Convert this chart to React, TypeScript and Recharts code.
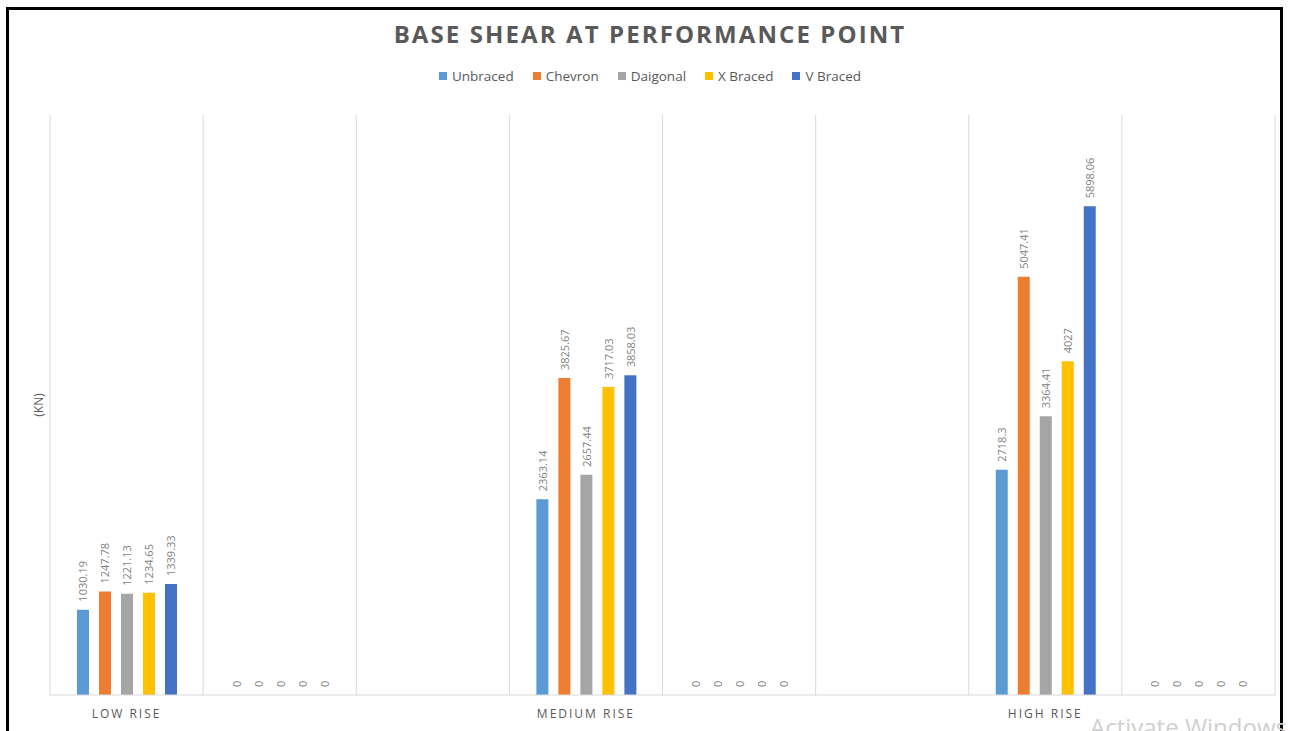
import React from 'react';
import { BarChart, Bar, XAxis, YAxis, CartesianGrid, LabelList } from 'recharts';

const categories = ['LOW RISE', '', '', 'MEDIUM RISE', '', '', 'HIGH RISE', ''];
const unbraced = [1030.19, 0, null, 2363.14, 0, null, 2718.3, 0];
const chevron = [1247.78, 0, null, 3825.67, 0, null, 5047.41, 0];
const daigonal = [1221.13, 0, null, 2657.44, 0, null, 3364.41, 0];
const xBraced = [1234.65, 0, null, 3717.03, 0, null, 4027, 0];
const vBraced = [1339.33, 0, null, 3858.03, 0, null, 5898.06, 0];

const seriesNames = ['Unbraced', 'Chevron', 'Daigonal', 'X Braced', 'V Braced'];
const seriesKeys = ['unbraced', 'chevron', 'daigonal', 'xBraced', 'vBraced'];
const seriesColors = ['#5B9BD5', '#ED7D31', '#A5A5A5', '#FFC000', '#4472C4'];
const seriesValues = [unbraced, chevron, daigonal, xBraced, vBraced];

const data = categories.map((c, i) => {
  const row: any = { idx: i, name: c };
  seriesKeys.forEach((k, s) => {
    row[k] = seriesValues[s][i];
  });
  return row;
});

const FONT = '"Open Sans", "Noto Sans", sans-serif';

const renderValueLabel = (props: any) => {
  const { x, y, width, height, value } = props;
  if (value === null || value === undefined) return null;
  const cx = Number(x) + Number(width) / 2;
  const top = Math.min(Number(y), Number(y) + Number(height || 0));
  const ty = top - 8;
  if (!isFinite(cx) || !isFinite(ty)) return null;
  return (
    <text
      x={cx}
      y={ty}
      transform={`rotate(-90, ${cx}, ${ty})`}
      textAnchor="start"
      dominantBaseline="central"
      fill="#7f7f7f"
      fontSize={11}
      fontFamily={FONT}
    >
      {String(value)}
    </text>
  );
};

export default function App() {
  const n = categories.length;
  return (
    <div style={{ position: 'absolute', left: 0, top: 0, width: 1290, height: 731, overflow: 'hidden', background: '#fff' }}>
      <div
        style={{
          position: 'absolute',
          left: 6,
          top: 7,
          width: 1277,
          height: 760,
          border: '3px solid #000',
          boxSizing: 'border-box',
        }}
      />
      <div
        style={{
          position: 'absolute',
          left: 0,
          top: 17,
          width: 1300,
          textAlign: 'center',
          fontFamily: FONT,
          fontWeight: 700,
          fontSize: 24,
          letterSpacing: 2.1,
          color: '#595959',
        }}
      >
        BASE SHEAR AT PERFORMANCE POINT
      </div>
      <div
        style={{
          position: 'absolute',
          left: 0,
          top: 67,
          width: 1300,
          display: 'flex',
          justifyContent: 'center',
          fontFamily: FONT,
          fontSize: 13.5,
          color: '#595959',
        }}
      >
        {seriesNames.map((nm, i) => (
          <div key={nm} style={{ display: 'flex', alignItems: 'center', marginRight: i < seriesNames.length - 1 ? 19 : 0 }}>
            <span style={{ display: 'inline-block', width: 8, height: 8, background: seriesColors[i], marginRight: 5 }} />
            <span>{nm}</span>
          </div>
        ))}
      </div>
      <div style={{ position: 'absolute', left: 0, top: 0 }}>
        <BarChart
          width={1290}
          height={731}
          data={data}
          margin={{ top: 115, right: 15, bottom: 0, left: 0 }}
          barGap={10}
          barSize={12}
        >
          <CartesianGrid
            horizontal={false}
            stroke="#d9d9d9"
            verticalCoordinatesGenerator={({ offset }: any) =>
              Array.from({ length: n + 1 }, (_, i) => offset.left + (i * offset.width) / n)
            }
          />
          <XAxis
            dataKey="idx"
            type="category"
            height={36}
            axisLine={{ stroke: '#d9d9d9' }}
            tickLine={false}
            interval={0}
            tickFormatter={(v: any) => categories[Number(v)]}
            tick={{ fill: '#595959', fontSize: 12, fontFamily: FONT, letterSpacing: 2 }}
            tickMargin={8}
          />
          <YAxis
            width={50}
            domain={[0, 7000]}
            ticks={[0, 7000]}
            tick={false}
            axisLine={false}
            tickLine={false}
            label={(p: any) => {
              const vb = p.viewBox || {};
              const lx = (vb.x || 0) + (vb.width || 50) - 12;
              const ly = (vb.y || 115) + (vb.height || 580) / 2;
              return (
                <text
                  x={lx}
                  y={ly}
                  transform={`rotate(-90, ${lx}, ${ly})`}
                  textAnchor="middle"
                  dominantBaseline="central"
                  fill="#595959"
                  fontSize={12}
                  fontFamily={FONT}
                >
                  (KN)
                </text>
              );
            }}
          />
          {seriesKeys.map((k, i) => (
            <Bar
              key={k}
              dataKey={k}
              name={seriesNames[i]}
              fill={seriesColors[i]}
              minPointSize={(v: any) => (v === 0 ? 0.01 : 0)}
              isAnimationActive={false}
            >
              <LabelList dataKey={k} content={renderValueLabel} />
            </Bar>
          ))}
        </BarChart>
      </div>
      <div
        style={{
          position: 'absolute',
          left: 1090,
          top: 710,
          fontFamily: FONT,
          fontSize: 24,
          color: '#d0d0d0',
          whiteSpace: 'nowrap',
        }}
      >
        Activate Windows
      </div>
    </div>
  );
}
